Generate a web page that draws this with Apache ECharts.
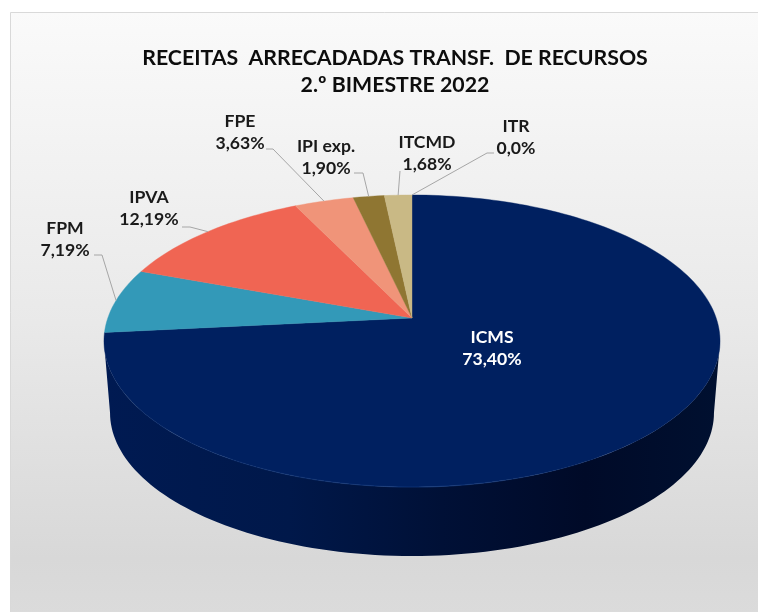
<!DOCTYPE html>
<html><head><meta charset="utf-8">
<style>html,body{margin:0;padding:0;background:#fff}#c{width:758px;height:612px}</style>
<script src="https://cdn.jsdelivr.net/npm/echarts@6/dist/echarts.min.js"></script>
</head><body><div id="c"></div>
<script>
const titleLines = ['RECEITAS  ARRECADADAS TRANSF.  DE RECURSOS', '2.º BIMESTRE 2022'];
const categories = ['ICMS', 'FPM', 'IPVA', 'FPE', 'IPI exp.', 'ITCMD', 'ITR'];
const shares = [73.40, 7.19, 12.19, 3.63, 1.90, 1.68, 0.0];
const shareLabels = ['73,40%', '7,19%', '12,19%', '3,63%', '1,90%', '1,68%', '0,0%'];
const sliceColors = ['#002060', '#3399B8', '#F06553', '#F09479', '#8F7632', '#C9B985', '#C9B985'];

// Label anchors (centre of the two-line text) and the leader line's knee points.
const labelAt = [[492, 348], [65, 239], [149, 208], [240, 132], [326, 157], [427, 153], [516, 137]];
const leaderKnees = [null, [[94, 255], [102, 255]], [[182, 227], [190, 227]], [[266, 149], [273, 149]],
  [[354, 173], [363, 173]], [[400, 171]], [[494, 153], [487, 153]]];

// Perspective projection of the pie disc onto the page.
const persp = 0.1575;
const topDisc = { cx: 412, cy: 318, a: 304.2, b: 142.4 };
const baseDisc = { cx: 412, cy: 390.3, a: 298.2, b: 139.6 };
function project(d, deg) {
  const t = deg * Math.PI / 180, u = Math.sin(t), v = Math.cos(t), w = 1 + persp * v;
  return [d.cx + d.a * u / w, d.cy - d.b * v / w];
}
const total = shares.reduce((a, b) => a + b, 0);
let run = 0;
const rows = shares.map((s, i) => {
  const start = run / total * 360; run += s;
  return [start, run / total * 360, i];
});
function arc(d, a0, a1) {
  const n = Math.max(2, Math.ceil(Math.abs(a1 - a0) / 1.5)), pts = [];
  for (let k = 0; k <= n; k++) pts.push(project(d, a0 + (a1 - a0) * k / n));
  return pts;
}
// Angles (clockwise from the top) between which the outer wall faces the viewer.
const wallFrom = 90 + Math.asin(persp) * 180 / Math.PI, wallTo = 360 - wallFrom;

const chart = echarts.init(document.getElementById('c'), null, { renderer: 'canvas' });
chart.setOption({
  animation: false,
  backgroundColor: '#ffffff',
  title: {
    text: titleLines.join('\n'), left: 390, top: 40, textAlign: 'center',
    textStyle: { fontFamily: 'Lato', fontWeight: 700, fontSize: 21.3, color: '#0d0d0d', lineHeight: 26.5 }
  },
  graphic: [{
    type: 'rect', z: -10, silent: true,
    shape: { x: 10.5, y: 12.5, width: 760, height: 620 },
    style: {
      stroke: '#d9d9d9', lineWidth: 1,
      fill: { type: 'linear', x: 0, y: 0, x2: 0, y2: 1, global: false, colorStops: [
        { offset: 0, color: '#fafafa' }, { offset: 0.5, color: '#e9e9e9' }, { offset: 0.88, color: '#d8d8d8' }, { offset: 1, color: '#dcdcdc' }] }
    }
  }],
  series: [
    { type: 'custom', coordinateSystem: 'none', z: 2, silent: true, data: rows,
      renderItem(p, api) {
        const a0 = Math.max(api.value(0), wallFrom), a1 = Math.min(api.value(1), wallTo);
        if (a1 <= a0) return { type: 'group', children: [] };
        const pts = arc(topDisc, a0, a1).concat(arc(baseDisc, a0, a1).reverse());
        const isMain = api.value(2) === 0;
        return { type: 'polygon', shape: { points: pts }, style: { lineWidth: 0,
          fill: isMain ? { type: 'linear', global: true, x: 104, y: 0, x2: 720, y2: 0, colorStops: [
            { offset: 0, color: '#001a52' }, { offset: 0.3, color: '#00184a' }, { offset: 0.55, color: '#001036' },
            { offset: 0.78, color: '#000a28' }, { offset: 1, color: '#001030' }] } : sliceColors[api.value(2)] } };
      } },
    { type: 'custom', coordinateSystem: 'none', z: 3, silent: true, data: rows,
      renderItem(p, api) {
        const a0 = api.value(0), a1 = api.value(1);
        if (a1 <= a0) return { type: 'group', children: [] };
        const pts = [[topDisc.cx, topDisc.cy]].concat(arc(topDisc, a0, a1));
        const col = sliceColors[api.value(2)];
        const kids = [{ type: 'polygon', shape: { points: pts }, style: { fill: col, stroke: col, lineWidth: 0.4 } }];
        if (api.value(2) === 0) kids.push({ type: 'polyline', shape: { points: arc(topDisc, wallFrom + 25, wallTo) },
          style: { fill: null, lineWidth: 1.2, stroke: { type: 'linear', global: true, x: 620, y: 0, x2: 104, y2: 0, colorStops: [
            { offset: 0, color: 'rgba(20,60,130,0)' }, { offset: 0.35, color: 'rgba(20,60,130,0.6)' }, { offset: 0.85, color: 'rgba(20,60,130,0.25)' }, { offset: 1, color: 'rgba(20,60,130,0)' }] } } });
        return { type: 'group', children: kids };
      } },
    { type: 'custom', coordinateSystem: 'none', z: 4, silent: true, data: rows,
      renderItem(p, api) {
        const i = api.value(2), at = labelAt[i], kids = [];
        if (leaderKnees[i]) {
          const end = project(topDisc, (api.value(0) + api.value(1)) / 2);
          kids.push({ type: 'polyline', shape: { points: leaderKnees[i].concat([end]) },
            style: { fill: null, stroke: '#a6a6a6', lineWidth: 1 } });
        }
        kids.push({ type: 'text', style: { text: categories[i] + '\n' + shareLabels[i], x: at[0], y: at[1],
          align: 'center', verticalAlign: 'middle', lineHeight: 22,
          font: '700 17.6px Lato', fill: i === 0 ? '#ffffff' : '#1a1a1a' } });
        return { type: 'group', children: kids };
      } }
  ]
});
</script></body></html>
